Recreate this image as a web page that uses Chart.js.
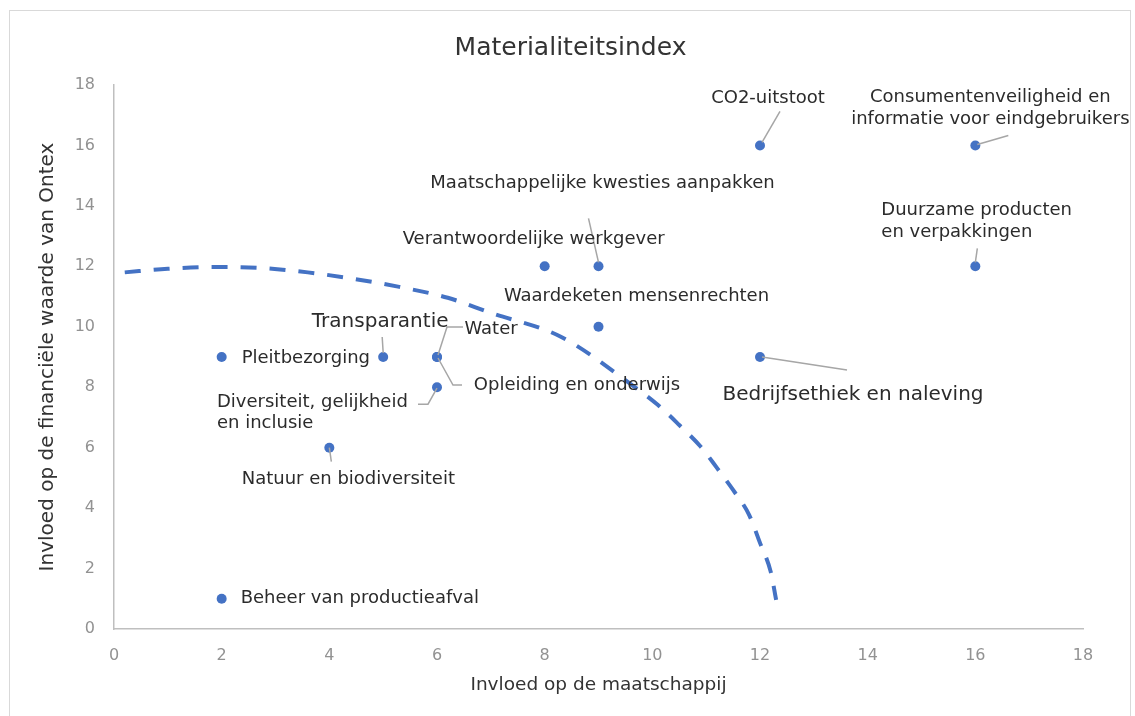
<!DOCTYPE html>
<html>
<head>
<meta charset="utf-8">
<script src="https://cdn.jsdelivr.net/npm/chart.js@4/dist/chart.umd.min.js"></script>
<style>
  body { margin: 0; background: #fff; }
  .frame { position: absolute; left: 9px; top: 10px; width: 1120px; height: 720px; border: 1px solid #d9d9d9; }
  .holder { position: absolute; left: 0; top: 0; width: 1135px; height: 716px; }
</style>
</head>
<body>
<div class="frame"></div>
<div class="holder"><canvas id="c"></canvas></div>
<script>
// topics and their scores
var topics = [
    'CO2-uitstoot',
    'Consumentenveiligheid en\ninformatie voor eindgebruikers',
    'Duurzame producten\nen verpakkingen',
    'Maatschappelijke kwesties aanpakken',
    'Verantwoordelijke werkgever',
    'Waardeketen mensenrechten',
    'Bedrijfsethiek en naleving',
    'Transparantie',
    'Water',
    'Opleiding en onderwijs',
    'Pleitbezorging',
    'Diversiteit, gelijkheid\nen inclusie',
    'Natuur en biodiversiteit',
    'Beheer van productieafval'
]
var society = [12, 16, 16, 9, 8, 9, 12, 5, 6, 6, 2, 6, 4, 2]
var financial = [16, 16, 12, 12, 12, 10, 9, 9, 9, 9, 9, 8, 6, 1]

// dashed threshold curve
var curveX = [0.2, 1, 1.9, 2.7, 3.6, 4.4, 5.3, 6.2, 7, 8.3, 9.6, 10.1, 10.5, 10.9, 11.2, 11.5, 11.8, 12, 12.2, 12.3]
var curveY = [11.8, 11.92, 11.98, 11.95, 11.8, 11.6, 11.32, 10.96, 10.46, 9.67, 8.1, 7.42, 6.75, 6.03, 5.33, 4.6, 3.77, 2.85, 1.89, 0.96]

var xTicks = [0, 2, 4, 6, 8, 10, 12, 14, 16, 18]
var yTicks = [0, 2, 4, 6, 8, 10, 12, 14, 16, 18]

var chartTitle = 'Materialiteitsindex'
var blue = '#4472C4'

// label placement (pixel offsets from the point)
var labelPos = [
    {dx: 8, dy: -47, align: 'center', leader: [[2, -3], [20, -34]]},
    {dx: 15, dy: -48, align: 'center', leader: [[2, -1], [33, -10]]},
    {dx: -94, dy: -56, align: 'left', leader: [[0, -4], [2, -18]]},
    {dx: 4, dy: -83, align: 'center', leader: [[0, -4], [-10, -48]]},
    {dx: -11, dy: -27, align: 'center'},
    {dx: 38, dy: -30, align: 'center'},
    {dx: 93, dy: 38, align: 'center', size: 20, leader: [[2, 0], [87, 13]]},
    {dx: -3, dy: -35, align: 'center', size: 20, leader: [[-1, -20], [0, -4]]},
    {dx: 54, dy: -28, align: 'center', leader: [[26, -30], [10, -30], [1, -2]]},
    {dx: 140, dy: 28, align: 'center', leader: [[1, 1], [16, 28], [25, 28]]},
    {dx: 20, dy: 1, align: 'left'},
    {dx: -220, dy: 15, align: 'left', leader: [[-19, 17], [-9, 17], [0, 1]]},
    {dx: 19, dy: 32, align: 'center', leader: [[0, 0], [2, 14]]},
    {dx: 19, dy: 0, align: 'left'}
]

var pointLabels = {
    id: 'pointLabels',
    afterDatasetsDraw: function(chart){
        var ctx = chart.ctx
        var xs = chart.scales.x, ys = chart.scales.y
        ctx.save()
        // title, centred on the whole frame
        ctx.fillStyle = '#333'
        ctx.font = '25px "DejaVu Sans"'
        ctx.textAlign = 'center'
        ctx.textBaseline = 'middle'
        ctx.fillText(chartTitle, chart.width / 2 + 3, 48)

        for(var i = 0; i < topics.length; i++){
            var px = xs.getPixelForValue(society[i])
            var py = ys.getPixelForValue(financial[i])
            var p = labelPos[i]
            if(p.leader){
                ctx.strokeStyle = '#a6a6a6'
                ctx.lineWidth = 1.5
                ctx.beginPath()
                p.leader.forEach(function(pt, k){
                    if(k == 0) ctx.moveTo(px + pt[0], py + pt[1])
                    else ctx.lineTo(px + pt[0], py + pt[1])
                })
                ctx.stroke()
            }
            ctx.fillStyle = '#2b2b2b'
            ctx.font = (p.size || 18) + 'px "DejaVu Sans"'
            ctx.textAlign = p.align
            ctx.textBaseline = 'middle'
            var lines = topics[i].split('\n')
            lines.forEach(function(line, k){
                ctx.fillText(line, px + p.dx, py + p.dy + k * 21.5)
            })
        }
        ctx.restore()
    }
}

var pts = society.map(function(v, i){ return {x: v, y: financial[i]} })
var curve = curveX.map(function(v, i){ return {x: v, y: curveY[i]} })

new Chart(document.getElementById('c').getContext('2d'), {
    type: 'scatter',
    data: {
        datasets: [{
            data: pts,
            backgroundColor: blue,
            borderWidth: 0,
            pointRadius: 5,
            pointHoverRadius: 5
        }, {
            data: curve,
            showLine: true,
            borderColor: blue,
            borderWidth: 4,
            borderDash: [16, 13],
            pointRadius: 0,
            tension: 0.4,
            cubicInterpolationMode: 'monotone'
        }]
    },
    options: {
        responsive: true,
        maintainAspectRatio: false,
        animation: false,
        layout: {padding: {top: 85, left: 28, right: 52, bottom: 10}},
        plugins: {
            legend: {display: false},
            tooltip: {enabled: false},
            title: {display: false}
        },
        scales: {
            x: {
                type: 'linear',
                min: 0, max: 18,
                afterBuildTicks: function(s){ s.ticks = xTicks.map(function(v){ return {value: v} }) },
                afterFit: function(s){ s.height = 77 },
                grid: {display: false, drawTicks: false},
                border: {display: true, color: '#bfbfbf', width: 1.5},
                ticks: {color: '#929292', padding: 17, font: {family: 'DejaVu Sans', size: 16}},
                title: {
                    display: true, text: 'Invloed op de maatschappij', color: '#333',
                    font: {family: 'DejaVu Sans', size: 18.5}, padding: {top: 0, bottom: 10}
                }
            },
            y: {
                type: 'linear',
                min: 0, max: 18,
                afterBuildTicks: function(s){ s.ticks = yTicks.map(function(v){ return {value: v} }) },
                afterFit: function(s){ s.width = 86 },
                grid: {display: false, drawTicks: false},
                border: {display: true, color: '#bfbfbf', width: 1.5},
                ticks: {color: '#929292', padding: 19, font: {family: 'DejaVu Sans', size: 16}},
                title: {
                    display: true, text: 'Invloed op de financiële waarde van Ontex', color: '#333',
                    font: {family: 'DejaVu Sans', size: 20}, padding: {top: 8, bottom: 0}
                }
            }
        }
    },
    plugins: [pointLabels]
});
</script>
</body>
</html>
